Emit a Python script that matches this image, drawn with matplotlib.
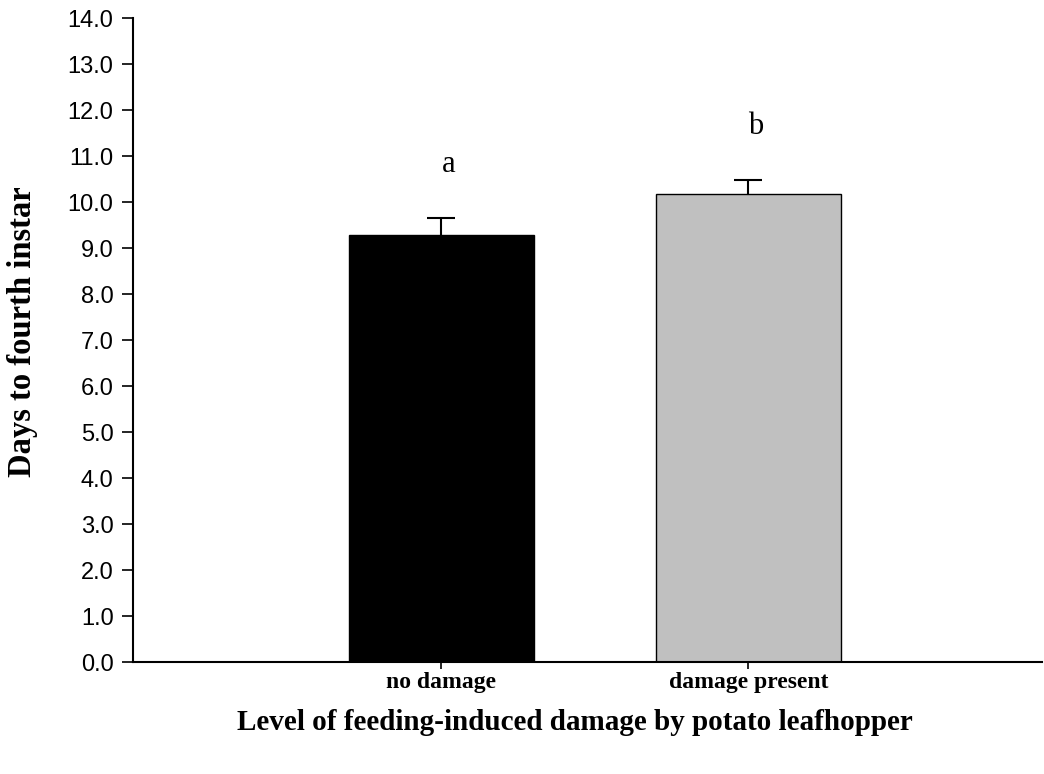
import matplotlib
matplotlib.use("Agg")
import matplotlib.pyplot as plt

# Data
categories = ["no damage", "damage present"]
days_mean = [9.29, 10.17]
days_se = [0.37, 0.31]
bar_colors = ["#000000", "#c0c0c0"]
letters = ["a", "b"]
yticks = [i * 1.0 for i in range(15)]

fig = plt.figure(figsize=(10.44, 7.74), dpi=100)
ax = fig.add_axes([0.1274, 0.1447, 0.8706, 0.832])

x = list(range(len(categories)))
ax.bar(x, days_mean, width=0.6, color=bar_colors, edgecolor="#000000", linewidth=1.0, zorder=2)
# upper error only, no cap at the bar top
_, caps, _ = ax.errorbar(x, days_mean, yerr=[[0, 0], days_se], fmt="none", ecolor="#000000",
                         elinewidth=1.5, capsize=10, capthick=1.5, zorder=3)
caps[0].set_visible(False)

for xi, m, s, lab in zip(x, days_mean, days_se, letters):
    ax.text(xi + 0.025, m + s + 0.85, lab, ha="center", va="bottom",
            family="Liberation Serif", fontsize=22)

ax.set_xlim(-1.005, 1.956)
ax.set_ylim(0, 14)
ax.set_yticks(yticks)
ax.set_yticklabels([f"{v:.1f}" for v in yticks], family="Liberation Sans", fontsize=17)
ax.set_xticks(x)
ax.set_xticklabels(categories, family="Liberation Serif", fontweight="bold", fontsize=17)
ax.tick_params(axis="x", length=5, width=1.2, direction="out", pad=2)
ax.tick_params(axis="y", length=8, width=1.2, direction="out", pad=6)

for side in ["top", "right"]:
    ax.spines[side].set_visible(False)
for side in ["left", "bottom"]:
    ax.spines[side].set_linewidth(1.5)

fig.text(0.022, 0.572, "Days to fourth instar", rotation=90, ha="center", va="center",
         family="Liberation Serif", fontweight="bold", fontsize=23.5)
fig.text(0.551, 0.066, "Level of feeding-induced damage by potato leafhopper", ha="center", va="center",
         family="Liberation Serif", fontweight="bold", fontsize=21)

plt.savefig("out.png", dpi=100, facecolor="white")
